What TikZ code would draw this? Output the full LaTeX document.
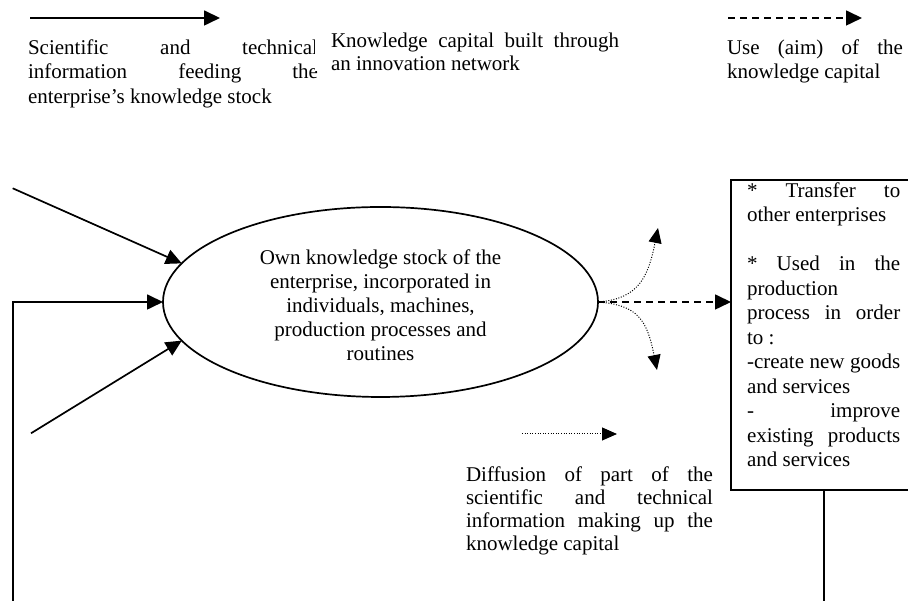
\documentclass[tikz,border=0pt]{standalone}
\usepackage{fontspec}
\setmainfont{Liberation Serif}
\usetikzlibrary{arrows.meta,shapes.geometric}
\newcommand\justsetup{\parindent=0pt\parskip=0pt\relax\tolerance=10000\hbadness=10000\hyphenpenalty=10000\exhyphenpenalty=10000\relax}
\begin{document}
\begin{tikzpicture}[x=1pt,y=1pt,
  every node/.style={inner sep=0pt, outer sep=0pt, font=\fontsize{21}{24.5}\selectfont},
  para/.style={text width=#1, align=justify, anchor=north west},
  solidarrow/.style={line width=1.7pt, -{Triangle[length=16pt,width=15pt]}},
  plainline/.style={line width=1.7pt},
  dashedarrow/.style={line width=1.6pt, dash pattern=on 7pt off 5pt, -{Triangle[length=16pt,width=15pt]}},
  dottedarrow/.style={line width=1pt, dash pattern=on 1pt off 1.6pt, -{Triangle[length=15pt,width=13pt]}}
  ]
\useasboundingbox (0,0) rectangle (908,601);
\clip (0,0) rectangle (908,601);

% legend arrows
\coordinate (lgS1) at (30,583);
\coordinate (lgS2) at (220,583);
\coordinate (lgD1) at (728,583);
\coordinate (lgD2) at (862,583);
\coordinate (lgT1) at (522,167);
\coordinate (lgT2) at (617,167);
\draw[solidarrow] (lgS1) -- (lgS2);
\draw[dashedarrow] (lgD1) -- (lgD2);
\draw[dottedarrow] (lgT1) -- (lgT2);

% legend texts
\node[para=290pt] (t1) at (28,561.3) {\justsetup Scientific and technical\linebreak information feeding the\linebreak enterprise’s knowledge stock};
\node[para=288pt, fill=white, inner xsep=16pt, inner ysep=1pt, font=\fontsize{21}{23}\selectfont] (t2) at (315,569.3) {\justsetup Knowledge capital built through\linebreak an innovation network};
\node[para=176pt] (t3) at (727,561.3) {\justsetup Use (aim) of the\linebreak knowledge capital};
\node[para=247pt, font=\fontsize{21}{23}\selectfont] (t4) at (466,134.3) {\justsetup Diffusion of part of the\linebreak scientific and technical\linebreak information making up the\linebreak knowledge capital};

% central ellipse
\node[ellipse, draw, line width=1.7pt, minimum width=435pt, minimum height=190pt, align=center, font=\fontsize{21}{24}\selectfont] (ell) at (380.5,299) {\rule{0pt}{20.3pt}Own knowledge stock of the\\ enterprise, incorporated in\\ individuals, machines,\\ production processes and\\ routines};

% right box
\node[draw, line width=1.7pt, minimum width=200pt, minimum height=310pt, anchor=north west] (box) at (731,421) {};
\node[para=153.3pt] (boxtext) at (747,418.3) {\justsetup * Transfer to\linebreak other enterprises\par\vskip24.5pt\relax
* Used in the\linebreak production\linebreak process in order\linebreak to :\par
-create new goods\linebreak and services\par
- improve\linebreak existing products\linebreak and services};

% incoming arrows
\coordinate (inA) at (12.7,412.7);
\coordinate (inB) at (31,167.7);
\coordinate (fbL) at (12.7,-2);
\coordinate (fbR) at (824,-2);
\draw[solidarrow] (inA) -- (ell.169);
\draw[solidarrow] (inB) -- (ell.191);
\draw[solidarrow] (fbL) |- (ell.west);
\draw[plainline] (box.south -| fbR) -- (fbR);

% outgoing arrows
\coordinate (upTip) at (658,373);
\coordinate (dnTip) at (657,231);
\draw[dashedarrow] (ell.east) -- (ell.east -| box.west);
\draw[dottedarrow] (ell.east) .. controls +(40,3) and +(-10,-50) .. (upTip);
\draw[dottedarrow] (ell.east) .. controls +(40,-3) and +(-10,50) .. (dnTip);
\end{tikzpicture}
\end{document}
